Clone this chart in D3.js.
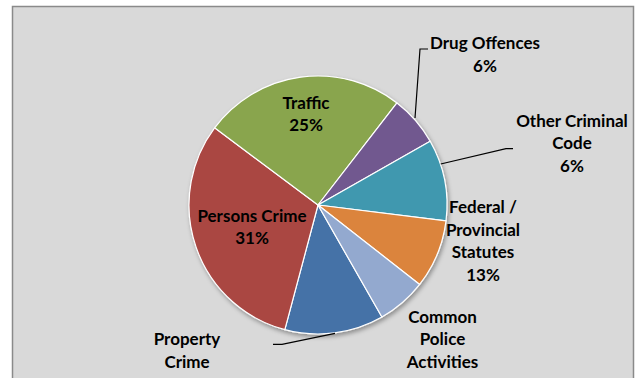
<!DOCTYPE html>
<html>
<head>
<meta charset="utf-8">
<script src="https://cdn.jsdelivr.net/npm/d3@7"></script>
<style>
  html, body { margin: 0; padding: 0; background: #ffffff; }
  svg { display: block; }
  text { font-family: Lato, "Open Sans", sans-serif; font-weight: 700; fill: #000; }
</style>
</head>
<body>
<svg id="chart" width="635" height="378"></svg>
<script>
// ---- data (clockwise order as drawn, starting at the first slice) ----
const categories = ["Property Crime", "Persons Crime", "Traffic", "Drug Offences",
                    "Other Criminal Code", "Federal / Provincial Statutes", "Common Police Activities"];
const values = [12.4, 31.1, 25.3, 6.3, 10.2, 8.6, 6.2];        // slice sizes as drawn
const percentLabels = ["12%", "31%", "25%", "6%", "6%", "13%", null];  // label text as printed (Common's is off-picture)
const labelLines = [
  ["Property", "Crime"],
  ["Persons Crime"],
  ["Traffic"],
  ["Drug Offences"],
  ["Other Criminal", "Code"],
  ["Federal /", "Provincial", "Statutes"],
  ["Common", "Police", "Activities"]
];
const colors = ["#4572A7", "#AA4643", "#89A54E", "#71588F", "#4198AF", "#DB843D", "#93A9CF"];

// ---- layout ----
const W = 635, H = 378;
const cx = 318, cy = 205, R = 129;
const startDeg = 150.3;
const lineH = 22.5;
// label anchor (centre x, first baseline y) relative to pie centre
const labelPos = [
  [-131, 140], [-66, 16.5], [-12, -96.5], [167, -155.7],
  [254, -78.3], [165, 8.3], [124.5, 117.7]
];
// leader lines (relative to pie centre); null = none
const leaders = [
  [[17, 128.3], [-36, 139.3], [-45, 139.3]],
  null, null,
  [[97, -87], [102, -156], [110, -156]],
  [[122.7, -41], [188, -56.3], [195, -56.3]],
  null, null
];

const svg = d3.select("#chart");

// drop shadow filter
const defs = svg.append("defs");
const f = defs.append("filter").attr("id", "shadow")
  .attr("x", "-20%").attr("y", "-20%").attr("width", "140%").attr("height", "140%");
f.append("feDropShadow").attr("dx", 1.5).attr("dy", 2.5).attr("stdDeviation", 2)
  .attr("flood-color", "#000").attr("flood-opacity", 0.35);

// chart area
svg.append("rect").attr("x", 12.5).attr("y", 6.5).attr("width", 621).attr("height", 420)
  .attr("fill", "#d9d9d9").attr("stroke", "#8a8a8a").attr("stroke-width", 1.5);

const data = categories.map((c, i) => ({ cat: c, value: values[i], i }));
const pie = d3.pie().sort(null).value(d => d.value)
  .startAngle(startDeg * Math.PI / 180)
  .endAngle(startDeg * Math.PI / 180 + 2 * Math.PI);
const arc = d3.arc().innerRadius(0).outerRadius(R);

const g = svg.append("g").attr("transform", `translate(${cx},${cy})`);
const slices = g.append("g").attr("filter", "url(#shadow)");
slices.selectAll("path").data(pie(data)).join("path")
  .attr("d", arc)
  .attr("fill", d => colors[d.data.i])
  .attr("stroke", "#ffffff").attr("stroke-width", 1.2).attr("stroke-linejoin", "round");

// leader lines
const line = d3.line();
leaders.forEach(pts => {
  if (!pts) return;
  g.append("path").attr("d", line(pts)).attr("fill", "none")
    .attr("stroke", "#000").attr("stroke-width", 1.2);
});

// labels
data.forEach((d, i) => {
  const lines = percentLabels[i] ? labelLines[i].concat([percentLabels[i]]) : labelLines[i];
  const t = g.append("text").attr("text-anchor", "middle").style("font-size", "17px");
  lines.forEach((s, k) => {
    t.append("tspan").attr("x", labelPos[i][0]).attr("y", labelPos[i][1] + k * lineH).text(s);
  });
});
</script>
</body>
</html>
